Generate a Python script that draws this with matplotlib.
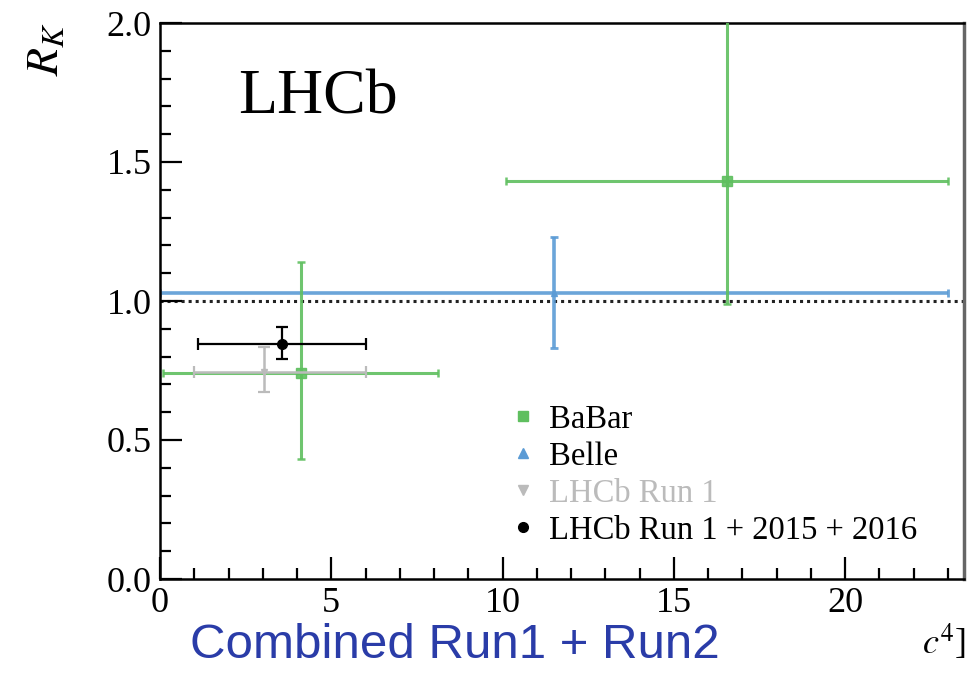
import matplotlib
matplotlib.use("Agg")
import matplotlib.pyplot as plt
from matplotlib.lines import Line2D
from matplotlib.ticker import MultipleLocator, FormatStrFormatter

plt.rcParams['mathtext.fontset'] = 'stix'
plt.rcParams['font.family'] = ['Liberation Serif', 'DejaVu Serif']

# ---- data ----
labels = ["BaBar", "Belle", "LHCb Run 1", "LHCb Run 1 + 2015 + 2016"]

babar_x = [4.11, 16.55]
babar_xlo = [0.1, 10.11]
babar_xhi = [8.12, 23.0]
babar_y = [0.74, 1.43]
babar_ylo = [0.31, 0.44]
babar_yhi = [0.40, 0.65]

belle_x = [11.5]
belle_xlo = [0.0]
belle_xhi = [23.0]
belle_y = [1.03]
belle_ylo = [0.20]
belle_yhi = [0.20]

run1_x = [3.05]
run1_xlo = [1.0]
run1_xhi = [6.0]
run1_y = [0.745]
run1_ylo = [0.074]
run1_yhi = [0.090]

comb_x = [3.55]
comb_xlo = [1.1]
comb_xhi = [6.0]
comb_y = [0.846]
comb_ylo = [0.056]
comb_yhi = [0.062]

green = '#5fbf5f'
blue = '#5b9bd5'
gray = '#bbbbbb'

fig = plt.figure(figsize=(9.72, 6.84), dpi=100)
ax = fig.add_axes([160/972, 1-579/684, (964-160)/972, (579-23)/684])

def xerr(x, lo, hi):
    return [[a - l for a, l in zip(x, lo)], [h - a for a, h in zip(x, hi)]]

ax.axhline(1.0, color='#222222', ls=(0, (1.0, 1.3)), lw=2.2, zorder=1)

ax.errorbar(belle_x, belle_y, xerr=xerr(belle_x, belle_xlo, belle_xhi),
            yerr=[belle_ylo, belle_yhi], fmt='^', color=blue, ms=5,
            elinewidth=2.6, capsize=3, capthick=2, alpha=0.9, zorder=2)
ax.errorbar(babar_x, babar_y, xerr=xerr(babar_x, babar_xlo, babar_xhi),
            yerr=[babar_ylo, babar_yhi], fmt='s', color=green, ms=7,
            elinewidth=2.2, capsize=3, capthick=1.8, alpha=0.9, zorder=3)
ax.errorbar(run1_x, run1_y, xerr=xerr(run1_x, run1_xlo, run1_xhi),
            yerr=[run1_ylo, run1_yhi], fmt='v', color=gray, ms=5,
            elinewidth=1.8, capsize=4, capthick=1.6, zorder=4)
ax.errorbar(comb_x, comb_y, xerr=xerr(comb_x, comb_xlo, comb_xhi),
            yerr=[comb_ylo, comb_yhi], fmt='o', color='black', ms=7,
            elinewidth=1.6, capsize=4, capthick=1.6, zorder=5)

ax.set_xlim(0, 23.47)
ax.set_ylim(0, 2.0)
ax.xaxis.set_major_locator(MultipleLocator(5))
ax.xaxis.set_minor_locator(MultipleLocator(1))
ax.yaxis.set_major_locator(MultipleLocator(0.5))
ax.yaxis.set_minor_locator(MultipleLocator(0.1))
ax.yaxis.set_major_formatter(FormatStrFormatter('%.1f'))
ax.tick_params(which='both', direction='in', top=False, right=False,
               labelsize=26, width=1.6, pad=6)
ax.tick_params(which='major', length=16)
ax.tick_params(which='minor', length=8)
for s in ax.spines.values():
    s.set_linewidth(1.8)
ax.spines['right'].set_color('#666666')
ax.spines['right'].set_linewidth(2.5)

fig.text(238/972, 1-113/684, 'LHCb', fontsize=46, ha='left', va='baseline')

fig.text(26/972, 1-22/684, r'$R_K$', fontsize=33, rotation=90,
         ha='left', va='top')

fig.text(190/972, 1-658/684, 'Combined Run1 + Run2', fontsize=35.5,
         color='#2a3ca8', family=['Liberation Sans', 'DejaVu Sans'],
         ha='left', va='baseline')
fig.text(966/972, 1-655/684, r'$c^{4}$]', fontsize=26, ha='right',
         va='baseline')

handles = [
    Line2D([], [], ls='none', marker='s', color=green, ms=7),
    Line2D([], [], ls='none', marker='^', color=blue, ms=7),
    Line2D([], [], ls='none', marker='v', color=gray, ms=7),
    Line2D([], [], ls='none', marker='o', color='black', ms=7),
]
leg = ax.legend(handles, labels, loc='upper left', frameon=False,
                bbox_to_anchor=(497/972, 1-388/684), bbox_transform=fig.transFigure,
                fontsize=23.5, handlelength=0.6, handletextpad=0.5,
                labelspacing=0.2, borderpad=0)
leg.get_texts()[2].set_color(gray)

fig.savefig('out.png', dpi=100)
